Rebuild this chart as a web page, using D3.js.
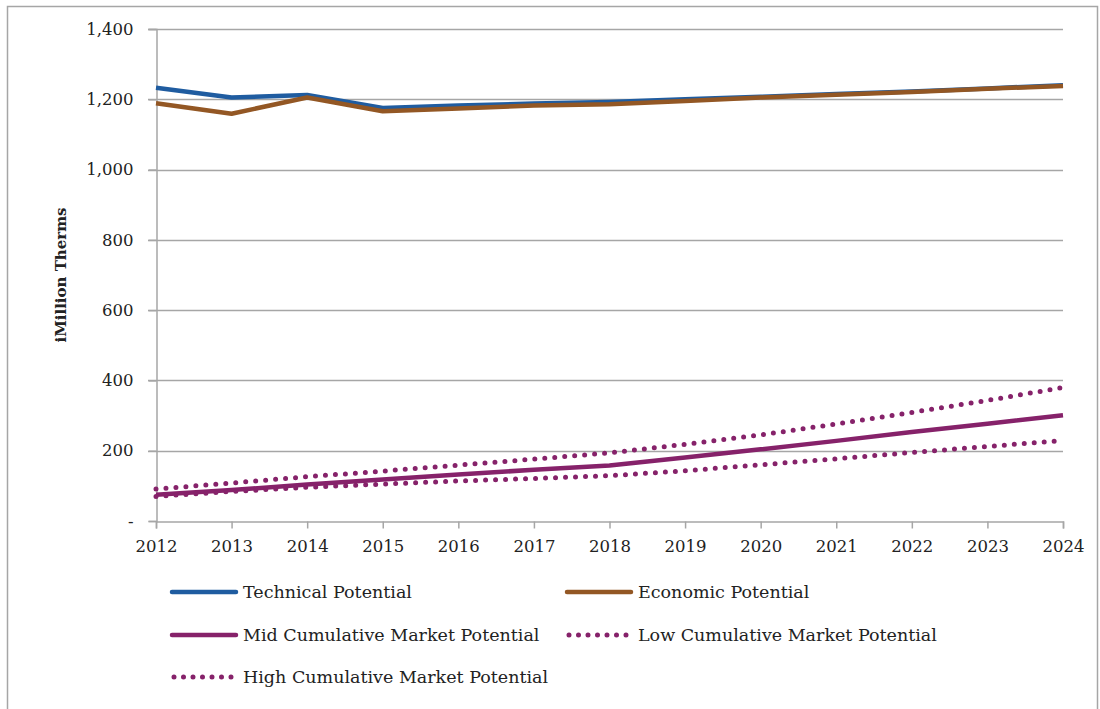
<!DOCTYPE html>
<html><head><meta charset="utf-8">
<script src="https://cdn.jsdelivr.net/npm/d3@7"></script>
<style>body{margin:0;background:#fff}svg{display:block}</style>
</head><body>
<svg id="c" width="1100" height="709"></svg>
<script>
const years = [2012,2013,2014,2015,2016,2017,2018,2019,2020,2021,2022,2023,2024];
const technical = [1233,1205,1212,1175,1182,1188,1192,1200,1207,1215,1222,1231,1240];
const economic  = [1189,1159,1205,1166,1174,1182,1186,1195,1205,1213,1221,1230,1238];
const midMarket = [75,88,104,118,132,146,158,181,204,228,253,277,301];
const lowMarket = [70,84,96,105,114,121,129,143,160,177,195,212,229];
const highMarket = [91,108,126,142,159,176,194,218,245,276,309,343,380];
const yTicks = [0,200,400,600,800,1000,1200,1400];
const yTickLabels = ["-","200","400","600","800","1,000","1,200","1,400"];
const seriesNames = ["Technical Potential","Economic Potential","Mid Cumulative Market Potential","Low Cumulative Market Potential","High Cumulative Market Potential"];

const svg = d3.select("#c");
const font = "'DejaVu Serif', serif";
svg.append("rect").attr("x",7.5).attr("y",6.5).attr("width",1090).attr("height",740)
  .attr("fill","none").attr("stroke","#a6a6a6").attr("stroke-width",1.5);

const x = d3.scalePoint().domain(years).range([156,1063]);
const y = d3.scaleLinear().domain([0,1400]).range([521,29]);

svg.append("g").selectAll("line").data(yTicks.slice(1)).join("line")
  .attr("x1",148).attr("x2",1063).attr("y1",d=>Math.round(y(d))+0.5).attr("y2",d=>Math.round(y(d))+0.5)
  .attr("stroke","#a6a6a6").attr("stroke-width",1.5);

const yAxis = svg.append("g").attr("transform","translate(156.5,0)")
  .call(d3.axisLeft(y).tickValues(yTicks).tickFormat((d,i)=>yTickLabels[i]).tickSize(8).tickPadding(15));
const xAxis = svg.append("g").attr("transform","translate(0,521.5)")
  .call(d3.axisBottom(x).tickSize(7).tickPadding(12));
[yAxis,xAxis].forEach(a=>{
  a.select(".domain").attr("stroke","#a6a6a6").attr("stroke-width",1.5);
  a.selectAll(".tick line").attr("stroke","#a6a6a6").attr("stroke-width",1.5);
  a.selectAll("text").attr("font-family",font).attr("font-size",16.5).attr("fill","#222");
});

svg.append("text").attr("transform","translate(66,275) rotate(-90)").attr("text-anchor","middle")
  .attr("font-family",font).attr("font-size",15).attr("font-weight","bold").attr("fill","#222")
  .text("iMillion Therms");

const series = [
  {name:seriesNames[2],vals:midMarket,color:"#86226A",dash:null},
  {name:seriesNames[3],vals:lowMarket,color:"#86226A",dash:"0 10"},
  {name:seriesNames[4],vals:highMarket,color:"#86226A",dash:"0 10"},
  {name:seriesNames[1],vals:economic,color:"#935724",dash:null},
  {name:seriesNames[0],vals:technical,color:"#1F5CA0",dash:null},
];
const line = d3.line().x((d,i)=>x(years[i])).y(d=>y(d));
const order = [series[4],series[3],series[0],series[1],series[2]];
order.forEach(s=>{
  const p = svg.append("path").attr("d",line(s.vals)).attr("fill","none")
    .attr("stroke",s.color).attr("stroke-width",4.5).attr("stroke-linejoin","round");
  if(s.dash){p.attr("stroke-dasharray",s.dash).attr("stroke-linecap","round").attr("stroke-width",5);}
  else p.attr("stroke-linecap","butt");
});

const legend = [
  {s:series[4],x:172,y:592},
  {s:series[3],x:567,y:592},
  {s:series[0],x:172,y:635},
  {s:series[1],x:567,y:635},
  {s:series[2],x:172,y:677},
];
legend.forEach(l=>{
  const g = svg.append("g");
  const ln = g.append("line").attr("x1",l.x).attr("x2",l.x+64).attr("y1",l.y).attr("y2",l.y)
    .attr("stroke",l.s.color).attr("stroke-linecap","round");
  if(l.s.dash) ln.attr("stroke-dasharray","0 9.5").attr("stroke-width",5).attr("x1",l.x+2);
  else ln.attr("stroke-width",4.5);
  g.append("text").attr("x",l.x+71).attr("y",l.y+6).attr("font-family",font).attr("font-size",17.5)
    .attr("fill","#222").text(l.s.name);
});
</script>
</body></html>
